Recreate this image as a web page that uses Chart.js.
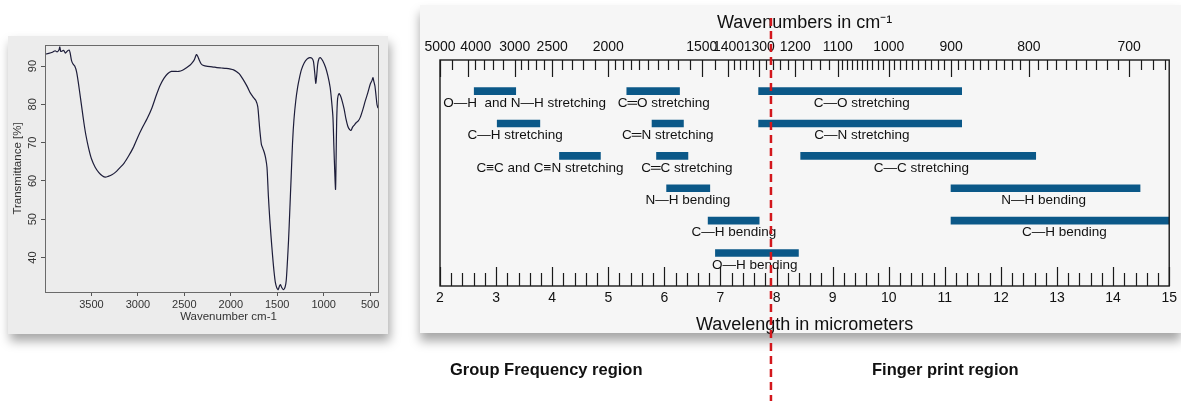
<!DOCTYPE html>
<html>
<head>
<meta charset="utf-8">
<script src="https://cdn.jsdelivr.net/npm/chart.js@4.4.1/dist/chart.umd.min.js"></script>
<style>
  html, body { margin:0; padding:0; background:#ffffff; width:1181px; height:401px; overflow:hidden; position:relative; font-family:'Liberation Sans', Arial, sans-serif; }
  .card { position:absolute; }
  #leftCard { left:8px; top:36px; width:380px; height:298px; background:#ececec; box-shadow: 2px 7px 10px rgba(0,0,0,0.35); }
  #rightCard { left:420px; top:5px; width:761px; height:328px; background:#f6f6f6; box-shadow: 0 8px 10px rgba(0,0,0,0.35); }
  canvas { position:absolute; }
  #spectrum { left:0; top:30px; }
  #bands { left:420px; top:0; }
  .region { position:absolute; top:359px; font-weight:bold; font-size:16.5px; color:#111; white-space:nowrap; line-height:20px; }
</style>
</head>
<body>
<div class="card" id="leftCard"></div>
<div class="card" id="rightCard"></div>
<canvas id="spectrum" width="400" height="310"></canvas>
<canvas id="bands" width="761" height="401"></canvas>
<div class="region" style="left:450px;">Group Frequency region</div>
<div class="region" style="left:872px;">Finger print region</div>
<script>
// ---------- Left panel: FTIR spectrum ----------
const specWavenumber = [4000,3960,3920,3890,3870,3850,3840,3830,3800,3780,3760,3740,3730,3715,3700,3680,3660,3640,3620,3600,3580,3560,3530,3500,3460,3420,3380,3350,3320,3280,3240,3200,3150,3100,3050,3000,2950,2900,2850,2800,2760,2720,2680,2640,2600,2560,2520,2480,2440,2410,2390,2370,2355,2340,2320,2300,2250,2200,2150,2100,2050,2000,1970,1940,1910,1880,1850,1820,1790,1770,1750,1730,1710,1700,1690,1680,1670,1655,1640,1625,1610,1595,1580,1565,1550,1535,1520,1505,1490,1475,1465,1450,1432,1415,1403,1390,1378,1365,1350,1335,1320,1300,1280,1260,1240,1210,1180,1150,1125,1110,1095,1085,1075,1064,1050,1034,1010,980,955,930,915,900,890,880,872,866,860,850,835,820,800,780,760,740,720,705,690,670,650,630,606,580,552,525,498,480,469,460,448,435,426,415];
const specTransmittance = [93.1,93.3,93.6,94.0,93.7,94.2,95.0,93.8,94.1,93.4,93.9,94.2,93.5,91.5,90.6,90.0,88.5,85.5,82.0,78.5,75.0,72.0,68.5,65.8,63.6,62.2,61.3,61.0,61.2,61.6,62.3,63.3,64.6,66.5,68.7,71.5,74.0,76.3,79.0,82.5,85.0,86.8,88.0,88.6,88.6,88.6,88.9,89.5,90.2,91.0,91.8,93.0,92.5,91.6,90.6,90.2,89.9,89.8,89.6,89.5,89.4,89.2,89.0,88.6,88.0,87.0,85.8,84.5,83.0,82.3,81.6,81.0,79.5,77.0,74.0,71.5,69.5,68.5,67.5,66.0,63.5,56.0,50.0,45.0,40.5,36.5,33.5,32.1,31.6,32.6,32.9,32.1,31.6,32.3,34.0,39.0,44.5,52.0,61.0,70.0,76.0,81.0,84.5,87.0,89.0,90.8,91.8,92.2,92.0,91.2,88.0,85.5,87.5,90.5,92.0,92.2,91.4,89.7,87.5,84.4,81.0,76.6,69.0,62.0,57.8,66.0,75.5,81.5,82.8,82.3,80.8,78.8,76.2,74.3,73.4,73.2,74.0,74.6,75.2,75.6,76.6,78.5,80.9,83.0,85.3,86.2,87.0,86.0,84.8,82.0,80.0,79.0];
const specXTicks = [3500,3000,2500,2000,1500,1000,500];
const specYTicks = [40,50,60,70,80,90];

// ---------- Right panel: IR correlation bands ----------
const bandRow   = [1, 1, 1, 2, 2, 2, 3, 3, 3, 4, 4, 5, 5, 6];
const bandStart = [2.61, 5.33, 7.68, 3.02, 5.78, 7.68, 4.13, 5.86, 8.43, 6.04, 11.11, 6.78, 11.11, 6.91];
const bandEnd   = [3.35, 6.27, 11.30, 3.78, 6.34, 11.30, 4.86, 6.42, 12.62, 6.81, 14.48, 7.69, 15.0, 8.39];

const labelText = ['O\u2014H  and N\u2014H stretching', 'C\u2550O stretching', 'C\u2014O stretching',
                   'C\u2014H stretching', 'C\u2550N stretching', 'C\u2014N stretching',
                   'C\u2261C and C\u2261N stretching', 'C\u2550C stretching', 'C\u2014C stretching',
                   'N\u2014H bending', 'N\u2014H bending',
                   'C\u2014H bending', 'C\u2014H bending',
                   'O\u2014H bending'];
const labelRow = [1, 1, 1, 2, 2, 2, 3, 3, 3, 4, 4, 5, 5, 6];
const labelAt  = [3.51, 5.99, 9.52, 3.34, 6.06, 9.52, 3.96, 6.40, 10.58, 6.42, 12.76, 7.24, 13.13, 7.61];

const wavelengthTicks = [2,3,4,5,6,7,8,9,10,11,12,13,14,15];
const wavenumberMajor = [5000,4000,3000,2500,2000,1500,1400,1300,1200,1100,1000,900,800,700];
const wavenumberText  = ['5000','    4000','3000','2500','2000','1500','1400','1300','1200','1100','1000','900','800','700'];
const wavenumberMinor = [4500,3800,3600,3400,3200,2900,2800,2700,2600,2400,2300,2200,2100,
  1950,1900,1850,1800,1750,1700,1650,1600,1550,1450,1380,1360,1340,1320,1280,1260,1240,1220,
  1180,1160,1140,1120,1090,1080,1070,1060,1050,1040,1030,1020,1010,
  990,980,970,960,950,940,930,920,910,890,880,870,860,850,840,830,820,810,
  790,780,770,760,750,740,730,720,710,690,680,670];
const dividerMicrons = 7.9;

const FONT = "'Liberation Sans', Arial, sans-serif";
Chart.defaults.font.family = FONT;

// ----- Left chart -----
const specPlugin = {
  id: 'specDecor',
  afterDraw(chart) {
    const {ctx, chartArea: a, scales} = chart;
    ctx.save();
    ctx.strokeStyle = '#6a6a6a';
    ctx.lineWidth = 1;
    ctx.strokeRect(a.left + 0.5, a.top + 0.5, a.right - a.left, a.bottom - a.top);
    ctx.fillStyle = '#333';
    ctx.font = '11px ' + FONT;
    ctx.textAlign = 'center';
    ctx.textBaseline = 'middle';
    specYTicks.forEach(v => {
      const y = scales.y.getPixelForValue(v);
      ctx.save();
      ctx.translate(33, y);
      ctx.rotate(-Math.PI / 2);
      ctx.fillText(String(v), 0, 0);
      ctx.restore();
    });
    ctx.font = '11.5px ' + FONT;
    ctx.fillText('Wavenumber cm-1', (a.left + a.right) / 2 + 17, 287);
    ctx.restore();
  }
};

new Chart(document.getElementById('spectrum'), {
  type: 'line',
  data: {
    datasets: [{
      data: specWavenumber.map((w, i) => ({x: w, y: specTransmittance[i]})),
      borderColor: '#1d1d3a',
      borderWidth: 1.2,
      pointRadius: 0,
      tension: 0.25,
      fill: false
    }]
  },
  options: {
    responsive: false,
    animation: false,
    layout: { padding: { top: 15, right: 22, left: 0, bottom: 0 } },
    plugins: { legend: { display: false }, tooltip: { enabled: false } },
    scales: {
      x: {
        type: 'linear', reverse: true, min: 415, max: 4000,
        afterBuildTicks: s => { s.ticks = specXTicks.map(v => ({value: v})); },
        afterFit: s => { s.height = 48; },
        grid: { drawOnChartArea: false, drawTicks: true, tickLength: 4, color: '#555' },
        border: { display: true, color: '#6a6a6a' },
        ticks: { font: { size: 11 }, color: '#333', padding: 2, maxRotation: 0, autoSkip: false,
                 callback: v => String(v) }
      },
      y: {
        type: 'linear', min: 31, max: 95.5,
        afterBuildTicks: s => { s.ticks = specYTicks.map(v => ({value: v})); },
        afterFit: s => { s.width = 45; },
        grid: { drawOnChartArea: false, drawTicks: true, tickLength: 4, color: '#555' },
        border: { display: true, color: '#6a6a6a' },
        ticks: { display: false },
        title: { display: true, text: 'Transmittance [%]', font: { size: 11.5 }, color: '#333', padding: { top: 11, bottom: 0 } }
      }
    }
  },
  plugins: [specPlugin]
});

// ----- Right chart -----
const bandPlugin = {
  id: 'bandDecor',
  afterDatasetsDraw(chart) {
    const {ctx, chartArea: a, scales} = chart;
    const xs = scales.x, ys = scales.y;
    ctx.save();
    ctx.strokeStyle = '#1a1a1a';
    ctx.lineWidth = 1.4;
    ctx.strokeRect(a.left, a.top, a.right - a.left, a.bottom - a.top);
    ctx.lineWidth = 1.2;
    ctx.beginPath();
    for (let i = 0; i <= 65; i++) {
      const v = 2 + i * 0.2;
      const x = Math.round(xs.getPixelForValue(v)) + 0.5;
      const len = (i % 5 === 0) ? 19 : 13;
      ctx.moveTo(x, a.bottom);
      ctx.lineTo(x, a.bottom - len);
    }
    wavenumberMajor.forEach(w => {
      const x = Math.round(xs.getPixelForValue(10000 / w)) + 0.5;
      ctx.moveTo(x, a.top); ctx.lineTo(x, a.top + 17);
    });
    wavenumberMinor.forEach(w => {
      const x = Math.round(xs.getPixelForValue(10000 / w)) + 0.5;
      ctx.moveTo(x, a.top); ctx.lineTo(x, a.top + 10);
    });
    ctx.stroke();
    ctx.fillStyle = '#111';
    ctx.font = '13.5px ' + FONT;
    ctx.textAlign = 'center';
    ctx.textBaseline = 'middle';
    labelText.forEach((t, i) => {
      ctx.fillText(t, xs.getPixelForValue(labelAt[i]), ys.getPixelForValue(labelRow[i]) + 12);
    });
    ctx.restore();
  },
  afterDraw(chart) {
    const {ctx, scales} = chart;
    const x = scales.x.getPixelForValue(dividerMicrons);
    ctx.save();
    ctx.strokeStyle = '#d3171c';
    ctx.lineWidth = 2.5;
    ctx.setLineDash([8, 5]);
    ctx.beginPath();
    ctx.moveTo(x, 18);
    ctx.lineTo(x, chart.height);
    ctx.stroke();
    ctx.restore();
  }
};

new Chart(document.getElementById('bands'), {
  type: 'bar',
  data: {
    datasets: [{
      data: bandRow.map((r, i) => ({x: [bandStart[i], bandEnd[i]], y: r})),
      backgroundColor: '#0b5888',
      borderWidth: 0,
      barThickness: 7
    }]
  },
  options: {
    indexAxis: 'y',
    responsive: false,
    animation: false,
    layout: { padding: { left: 20, right: 11, top: 0, bottom: 0 } },
    plugins: { legend: { display: false }, tooltip: { enabled: false } },
    scales: {
      x: {
        type: 'linear', position: 'bottom', min: 2, max: 15,
        afterBuildTicks: s => { s.ticks = wavelengthTicks.map(v => ({value: v})); },
        afterFit: s => { s.height = 115; },
        grid: { display: false, drawTicks: false },
        border: { display: false },
        ticks: { font: { size: 14 }, color: '#111', padding: 4, maxRotation: 0, minRotation: 0, autoSkip: false },
        title: { display: true, text: 'Wavelength in micrometers', font: { size: 18 }, color: '#111', padding: { top: 0, bottom: 65 } }
      },
      xTop: {
        type: 'linear', axis: 'x', position: 'top', min: 2, max: 15,
        afterBuildTicks: s => { s.ticks = wavenumberMajor.map(w => ({value: 10000 / w})); },
        afterFit: s => { s.height = 60; },
        grid: { display: false, drawTicks: false },
        border: { display: false },
        ticks: { font: { size: 14 }, color: '#111', padding: 4, maxRotation: 0, minRotation: 0, autoSkip: false,
                 callback: (v, i) => wavenumberText[i] },
        title: { display: true, text: 'Wavenumbers in cm\u207B\u00B9', font: { size: 18 }, color: '#111', padding: { top: 12, bottom: 0 } }
      },
      y: { type: 'linear', min: 0.04, max: 7.02, reverse: true, offset: false, display: false }
    }
  },
  plugins: [bandPlugin]
});
</script>
</body>
</html>
